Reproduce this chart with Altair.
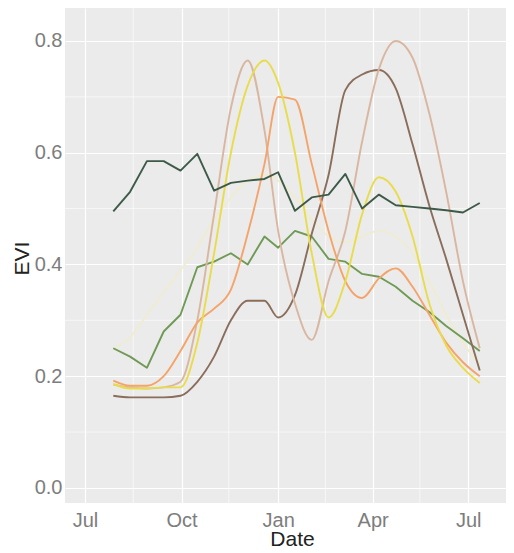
import altair as alt
import pandas as pd

# 16-day composite dates (one growing season)
dates = ["2017-07-28", "2017-08-13", "2017-08-29", "2017-09-14", "2017-09-30",
         "2017-10-16", "2017-11-01", "2017-11-17", "2017-12-03", "2017-12-19",
         "2018-01-01", "2018-01-17", "2018-02-02", "2018-02-18", "2018-03-06",
         "2018-03-22", "2018-04-07", "2018-04-23", "2018-05-09", "2018-05-25",
         "2018-06-10", "2018-06-26", "2018-07-12"]

pale = [0.25, 0.27, 0.31, 0.35, 0.39, 0.43, 0.48, 0.52, 0.55, 0.56, 0.55, 0.52,
        0.48, 0.45, 0.44, 0.45, 0.46, 0.45, 0.42, 0.37, 0.31, 0.26, 0.22]
green = [0.250, 0.235, 0.215, 0.280, 0.310, 0.395, 0.405, 0.420, 0.400, 0.450, 0.430, 0.460,
         0.450, 0.410, 0.405, 0.383, 0.378, 0.360, 0.335, 0.315, 0.290, 0.268, 0.245]
brown = [0.165, 0.162, 0.162, 0.162, 0.165, 0.190, 0.235, 0.300, 0.335, 0.335, 0.305, 0.345,
         0.455, 0.560, 0.712, 0.740, 0.748, 0.715, 0.615, 0.505, 0.410, 0.310, 0.210]
tan = [0.185, 0.180, 0.178, 0.180, 0.190, 0.300, 0.490, 0.680, 0.765, 0.640, 0.460, 0.330,
       0.265, 0.370, 0.460, 0.620, 0.750, 0.800, 0.770, 0.670, 0.530, 0.370, 0.250]
orange = [0.192, 0.183, 0.183, 0.200, 0.245, 0.296, 0.321, 0.355, 0.455, 0.580, 0.700, 0.695,
          0.580, 0.460, 0.370, 0.340, 0.375, 0.393, 0.360, 0.310, 0.260, 0.225, 0.200]
yellow = [0.186, 0.178, 0.178, 0.180, 0.180, 0.260, 0.420, 0.600, 0.720, 0.765, 0.725, 0.600,
          0.420, 0.305, 0.370, 0.490, 0.556, 0.530, 0.450, 0.330, 0.255, 0.215, 0.188]
dark_green = [0.495, 0.530, 0.585, 0.585, 0.568, 0.598, 0.532, 0.546, 0.550, 0.553, 0.565, 0.496,
              0.520, 0.525, 0.562, 0.500, 0.525, 0.506, 0.503, 0.500, 0.497, 0.493, 0.510]

# (name, values, colour, interpolation)
series = [("pale", pale, "#efecd2", "monotone"),
          ("green", green, "#6f9a55", "linear"),
          ("brown", brown, "#8a6d5a", "monotone"),
          ("tan", tan, "#d9b6a0", "monotone"),
          ("orange", orange, "#f4a46a", "monotone"),
          ("yellow", yellow, "#e9dc4c", "monotone"),
          ("dark_green", dark_green, "#3d5a48", "linear")]

minor_x = ["2017-08-16", "2017-11-15", "2018-02-15", "2018-05-16"]
minor_y = [0.1, 0.3, 0.5, 0.7]
major_y = [0.0, 0.2, 0.4, 0.6, 0.8]

W, H = 441, 495

x_enc = alt.X(
    "date:T",
    scale=alt.Scale(domain=[alt.DateTime(year=2017, month=6, date=12),
                            alt.DateTime(year=2018, month=8, date=6)]),
    axis=alt.Axis(
        values=[alt.DateTime(year=2017, month=7, date=1),
                alt.DateTime(year=2017, month=10, date=1),
                alt.DateTime(year=2018, month=1, date=1),
                alt.DateTime(year=2018, month=4, date=1),
                alt.DateTime(year=2018, month=7, date=1)],
        format="%b", title="Date", labelPadding=7,
        titleX=227, titleY=36, titleBaseline="middle", titleAlign="center",
    ),
)
y_enc = alt.Y(
    "evi:Q",
    scale=alt.Scale(domain=[-0.027, 0.859], nice=False, zero=False),
    axis=alt.Axis(values=major_y, format=".1f", title="EVI", labelPadding=3,
                  titleX=-43, titleY=250, titleBaseline="middle", titleAlign="center",
                  titleAngle=270),
)

minor_x_df = pd.DataFrame({"date": [d + "T00:00:00" for d in minor_x]})
minor_y_df = pd.DataFrame({"evi": minor_y})

layers = [
    alt.Chart(minor_x_df).mark_rule(color="white", strokeWidth=0.6).encode(x=x_enc),
    alt.Chart(minor_y_df).mark_rule(color="white", strokeWidth=0.6).encode(y=y_enc),
]
for name, vals, col, interp in series:
    df = pd.DataFrame({"date": [d + "T00:00:00" for d in dates], "evi": vals})
    layers.append(
        alt.Chart(df).mark_line(color=col, strokeWidth=1.9, strokeJoin="round",
                                interpolate=interp)
        .encode(x=x_enc, y=y_enc)
    )

chart = (
    alt.layer(*layers)
    .properties(width=W, height=H, autosize=alt.AutoSizeParams(type="none"),
                padding={"left": 57, "top": 0, "right": 0, "bottom": 47})
    .configure_view(fill="#EBEBEB", stroke=None)
    .configure_axis(domain=False, ticks=False, grid=True, gridColor="white", gridWidth=1.2,
                    labelFont="Liberation Sans", labelFontSize=20, labelColor="#7d7d7d",
                    titleFont="Liberation Sans", titleFontSize=21, titleColor="#222222",
                    titleFontWeight="normal")
)

chart.save("out.html", embed_options={"renderer": "svg", "actions": False})
